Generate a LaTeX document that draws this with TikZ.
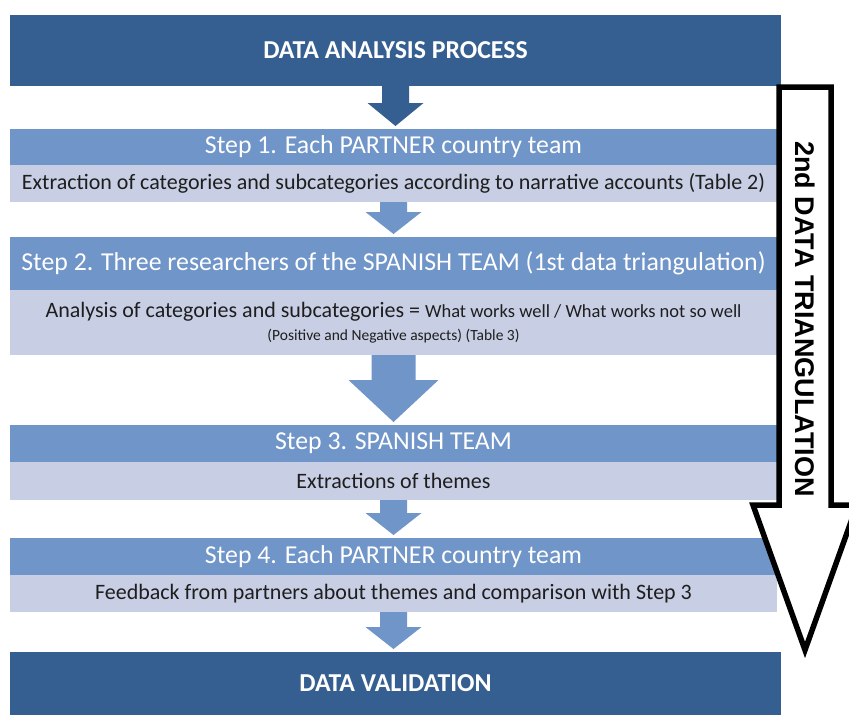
\documentclass[tikz,border=0pt]{standalone}
\usepackage{fontspec}
\setmainfont{Carlito}
\newfontfamily\arrowfont{Liberation Sans}
\usetikzlibrary{calc}
\definecolor{darkblue}{RGB}{54,95,145}
\definecolor{midblue}{RGB}{112,149,200}
\definecolor{paleblue}{RGB}{200,207,228}
\definecolor{bodytext}{RGB}{30,30,30}
\tikzset{banner/.style = {fill=darkblue, text=white, inner sep=0, outer sep=0,
                          minimum width=771pt, font=\bfseries\fontsize{25.8}{30}\selectfont}}
\tikzset{stephead/.style = {fill=midblue, text=white, inner sep=0, outer sep=0,
                            minimum width=767pt, font=\fontsize{25.8}{30}\selectfont}}
\tikzset{stepbody/.style = {fill=paleblue, text=bodytext, inner sep=0, outer sep=0,
                            minimum width=767pt, font=\fontsize{22}{25}\selectfont}}
% block arrow: colour, from, to, half shaft, half head, head length
\newcommand{\flowarrow}[6]{%
  \fill[#1] let \p1 = (#2.south), \p2 = (#3.north) in
    (\x1-#4pt,\y1) -- (\x1+#4pt,\y1) -- (\x1+#4pt,\y2+#6pt+3pt)
    -- (\x1+#5pt,\y2+#6pt+3pt) -- (\x1,\y2+3pt) -- (\x1-#5pt,\y2+#6pt+3pt)
    -- (\x1-#4pt,\y2+#6pt+3pt) -- cycle;}

\begin{document}
\begin{tikzpicture}[x=1pt, y=-1pt]
      \useasboundingbox [fill=white] (0, 0) rectangle (849, 715);

      \node (top) at (395.5, 50.5) [banner, minimum height=71pt] {DATA ANALYSIS PROCESS};

      \node (s1h) at (393.5, 147) [stephead, minimum height=36pt] {Step 1. Each PARTNER country team};
      \node (s1b) at (393.5, 183.5) [stepbody, minimum height=37pt]
            {Extraction of categories and subcategories according to narrative accounts (Table 2)};

      \node (s2h) at (393.5, 263.5) [stephead, minimum height=53pt]
            {Step 2. Three researchers of the SPANISH TEAM (1st data triangulation)};
      \node (s2b) at (393.5, 322.5) [stepbody, minimum height=65pt, align=center]
            {Analysis of categories and subcategories = {\fontsize{18.5}{21}\selectfont What works well / What works not so well}\\[-2pt]
             {\fontsize{15.5}{18}\selectfont (Positive and Negative aspects) (Table 3)}};

      \node (s3h) at (393.5, 443.5) [stephead, minimum height=37pt] {Step 3. SPANISH TEAM};
      \node (s3b) at (393.5, 481) [stepbody, minimum height=38pt] {Extractions of themes};

      \node (s4h) at (393.5, 556.5) [stephead, minimum height=37pt] {Step 4. Each PARTNER country team};
      \node (s4b) at (393.5, 593.5) [stepbody, minimum height=37pt]
            {Feedback from partners about themes and comparison with Step 3};

      \node (bottom) at (395.5, 683.5) [banner, minimum height=63pt] {DATA VALIDATION};

      \flowarrow{darkblue}{top}{s1h}{13.5}{28}{23}
      \flowarrow{midblue}{s1b}{s2h}{13.5}{28}{22}
      \flowarrow{midblue}{s2b}{s3h}{22}{45}{42}
      \flowarrow{midblue}{s3b}{s4h}{13.5}{28}{22}
      \flowarrow{midblue}{s4b}{bottom}{13.5}{28}{22}

      % outline arrow on the right
      \draw [line width=5.5pt, fill=white, line join=miter]
            (779, 87) -- (831, 87) -- (831, 505) -- (857, 505) -- (805, 650)
            -- (753, 505) -- (779, 505) -- cycle;
      \node (tri) at (805, 319) [rotate=-90, font=\arrowfont\bfseries\fontsize{27}{32}\selectfont]
            {2nd DATA TRIANGULATION};
    \end{tikzpicture}
\end{document}
